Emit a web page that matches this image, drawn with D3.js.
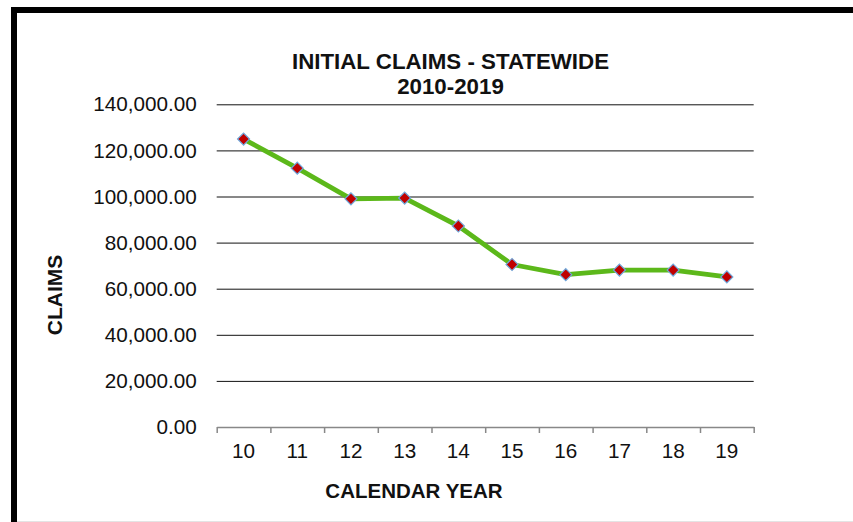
<!DOCTYPE html>
<html>
<head>
<meta charset="utf-8">
<script src="https://cdn.jsdelivr.net/npm/d3@7"></script>
<style>
  html, body { margin: 0; padding: 0; background: #fff; }
  svg { display: block; font-family: "Liberation Sans", Arial, sans-serif; }
</style>
</head>
<body>
<svg id="chart" width="853" height="522"></svg>
<script>
const categories = ["10", "11", "12", "13", "14", "15", "16", "17", "18", "19"];
const claims = [124900, 112300, 99000, 99300, 87200, 70500, 66100, 68100, 68100, 65100];
const yTicks = [0, 20000, 40000, 60000, 80000, 100000, 120000, 140000];
const titleLines = ["INITIAL CLAIMS - STATEWIDE", "2010-2019"];
const yTitle = "CLAIMS";
const xTitle = "CALENDAR YEAR";

(function () {
const svg = d3.select("#chart");
const pLeft = 216.7, pRight = 753.7, pTop = 104.3, pBottom = 427;

svg.append("rect").attr("width", 853).attr("height", 522).attr("fill", "#fff");

// frame
svg.append("line").attr("x1", 17).attr("x2", 853).attr("y1", 521.5).attr("y2", 521.5)
  .attr("stroke", "#e4e4e4").attr("stroke-width", 1);
svg.append("rect").attr("x", 14).attr("y", 10).attr("width", 1000).attr("height", 1000)
  .attr("fill", "none").attr("stroke", "#000").attr("stroke-width", 6);

const x = d3.scaleBand().domain(categories).range([pLeft, pRight]).padding(0);
const xb = d3.scaleLinear().domain([0, categories.length]).range([pLeft, pRight]);
const y = d3.scaleLinear().domain([0, 140000]).range([pBottom, pTop]);

// gridlines + y labels
const yAxis = d3.axisLeft(y).tickValues(yTicks).tickFormat(d3.format(",.2f"))
  .tickSizeInner(-(pRight - pLeft)).tickSizeOuter(0).tickPadding(20);
const gy = svg.append("g").attr("transform", `translate(${pLeft},0)`).call(yAxis);
gy.select(".domain").remove();
gy.selectAll(".tick line").attr("stroke", "#111").attr("stroke-width", 1)
  .attr("opacity", d => d === 0 ? 0 : 1);
gy.selectAll(".tick text").attr("font-size", "20.7px").attr("fill", "#111")
  .attr("font-family", "'Liberation Sans', Arial, sans-serif");

// x axis: line with ticks at category boundaries
const xAxis = d3.axisBottom(xb).tickValues(d3.range(categories.length + 1))
  .tickFormat("").tickSizeInner(6).tickSizeOuter(0);
const gx = svg.append("g").attr("transform", `translate(0,${pBottom})`).call(xAxis);
gx.select(".domain").attr("stroke", "#888").attr("stroke-width", 1.5);
gx.selectAll(".tick line").attr("stroke", "#888").attr("stroke-width", 1.5);

svg.append("g").selectAll("text").data(categories).join("text")
  .attr("x", d => x(d) + x.bandwidth() / 2).attr("y", 458)
  .attr("text-anchor", "middle").attr("font-size", "20.7px").attr("fill", "#111")
  .text(d => d);

// line
const pts = categories.map((c, i) => ({ c, v: claims[i] }));
const line = d3.line().x(d => x(d.c) + x.bandwidth() / 2).y(d => y(d.v));
svg.append("path").datum(pts).attr("d", line).attr("fill", "none")
  .attr("stroke", "#5cb81a").attr("stroke-width", 4.8).attr("stroke-linejoin", "round");

// markers
svg.append("g").selectAll("path").data(pts).join("path")
  .attr("transform", d => `translate(${x(d.c) + x.bandwidth() / 2},${y(d.v)}) rotate(45)`)
  .attr("d", d3.symbol().type(d3.symbolSquare).size(72)())
  .attr("fill", "#c00000").attr("stroke", "#6fa8dc").attr("stroke-width", 1.2);

// titles
const t = svg.append("text").attr("text-anchor", "middle").attr("font-weight", "bold")
  .attr("font-size", "22.3px").attr("fill", "#111");
t.selectAll("tspan").data(titleLines).join("tspan")
  .attr("x", 450.5).attr("y", (d, i) => 69.3 + i * 25).text(d => d);

svg.append("text").attr("transform", "translate(62,295) rotate(-90)")
  .attr("text-anchor", "middle").attr("font-weight", "bold").attr("font-size", "21px")
  .attr("fill", "#111").text(yTitle);

svg.append("text").attr("x", 414).attr("y", 498.3)
  .attr("text-anchor", "middle").attr("font-weight", "bold").attr("font-size", "20.5px")
  .attr("fill", "#111").text(xTitle);
})();
</script>
</body>
</html>
